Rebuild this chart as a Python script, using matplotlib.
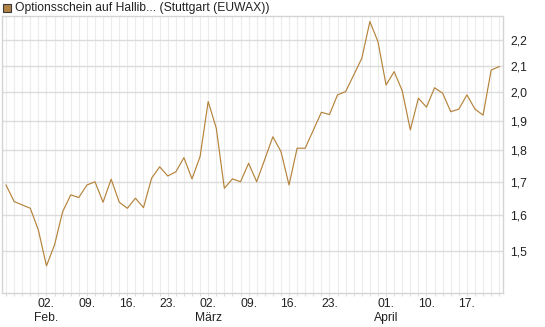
import matplotlib
matplotlib.use("Agg")
import matplotlib.pyplot as plt
from matplotlib.ticker import FixedLocator, FixedFormatter, NullLocator
from matplotlib.patches import Rectangle
import numpy as np
import pandas as pd

plt.rcParams['font.family'] = ['Liberation Sans', 'DejaVu Sans']

# trading days (Stuttgart, 2026, Easter holidays excluded)
dates = (list(pd.bdate_range("2026-01-26", "2026-04-02")) +
         list(pd.bdate_range("2026-04-07", "2026-04-23")))

values = [1.690, 1.640, 1.630, 1.620, 1.557, 1.459, 1.516, 1.610, 1.660, 1.652,
          1.690, 1.700, 1.638, 1.708, 1.638, 1.620, 1.650, 1.622, 1.711, 1.747,
          1.718, 1.731, 1.776, 1.709, 1.780, 1.967, 1.874, 1.680, 1.709, 1.700,
          1.758, 1.700, 1.771, 1.845, 1.796, 1.690, 1.807, 1.807, 1.867, 1.929,
          1.921, 1.991, 2.003, 2.064, 2.128, 2.275, 2.193, 2.027, 2.077, 2.006,
          1.868, 1.979, 1.947, 2.017, 1.997, 1.931, 1.940, 1.991, 1.940, 1.919,
          2.083, 2.096]

tick_dates = ["2026-02-02", "2026-02-09", "2026-02-16", "2026-02-23",
              "2026-03-02", "2026-03-09", "2026-03-16", "2026-03-23",
              "2026-04-01", "2026-04-10", "2026-04-17"]
tick_labels = ["02.\nFeb.", "09.", "16.", "23.", "02.\nMärz", "09.", "16.", "23.",
               "01.\nApril", "10.", "17."]

y_ticks = [1.5, 1.6, 1.7, 1.8, 1.9, 2.0, 2.1, 2.2]
y_labels = ["1,5", "1,6", "1,7", "1,8", "1,9", "2,0", "2,1", "2,2"]

series_label = "Optionsschein auf Hallib... (Stuttgart (EUWAX))"
line_color = "#b5833b"

date_index = {d.strftime("%Y-%m-%d"): i for i, d in enumerate(dates)}
x = np.arange(len(values))
tick_pos = [date_index[d] for d in tick_dates]

fig = plt.figure(figsize=(5.45, 3.27), dpi=100)
ax = fig.add_axes([2 / 545, 1 - 293.3 / 327, (503.3 - 2) / 545, (293.3 - 16) / 327])

ax.set_yscale("log")
ax.set_xlim(-0.5, len(values) - 0.5)
ax.set_ylim(1.388, 2.298)

# vertical grid at each trading day
for i in x:
    ax.axvline(i, color="#ececec", lw=0.8, zorder=0)
for yv in y_ticks:
    ax.axhline(yv, color="#dcdcdc", lw=1.0, zorder=0)

ax.plot(x, values, color=line_color, lw=0.85, zorder=3)

ax.yaxis.set_major_locator(FixedLocator(y_ticks))
ax.yaxis.set_major_formatter(FixedFormatter(y_labels))
ax.yaxis.set_minor_locator(NullLocator())
ax.yaxis.tick_right()
ax.tick_params(axis="y", which="major", length=0, pad=5, labelsize=8.7, colors="#222222")

ax.xaxis.set_major_locator(FixedLocator(tick_pos))
ax.xaxis.set_major_formatter(FixedFormatter(tick_labels))
ax.xaxis.set_minor_locator(FixedLocator(list(x)))
ax.tick_params(axis="x", which="major", length=2.5, pad=1.0, labelsize=8.7,
               colors="#222222", color="#dddddd", width=0.8)
ax.tick_params(axis="x", which="minor", length=2.5, color="#dddddd", width=0.8)
for lab in ax.get_xticklabels():
    lab.set_linespacing(1.15)
    lab.set_verticalalignment("top")

for s in ax.spines.values():
    s.set_color("#d4d4d4")
    s.set_linewidth(1.0)

# legend
fig.patches.append(Rectangle((3 / 545, 1 - 12 / 327), 8 / 545, 8 / 327,
                             transform=fig.transFigure, facecolor="#b08444",
                             edgecolor="#3a3a3a", lw=0.8))
fig.text(15 / 545, 1 - 7.5 / 327, series_label, fontsize=8.7, color="#222222",
         va="center", ha="left")

fig.savefig("out.png", dpi=100)
